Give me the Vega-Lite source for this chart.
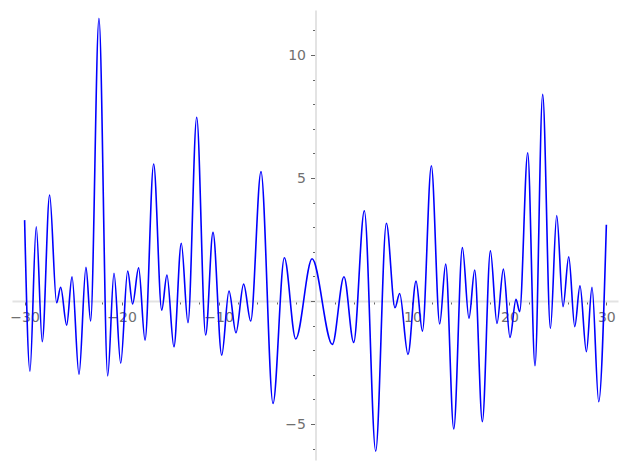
{
  "$schema": "https://vega.github.io/schema/vega-lite/v6.json",
  "width": 606,
  "height": 450,
  "autosize": "none",
  "padding": {"left": 12, "top": 10, "right": 9, "bottom": 10},
  "background": "white",
  "config": {"view": {"stroke": null}, "axis": {"grid": false, "title": null}},
  "data": {"values": [
    {"x": -30.0, "y": 3.29}, {"x": -29.45, "y": -2.85}, {"x": -28.8, "y": 3.02}, {"x": -28.18, "y": -1.65},
    {"x": -27.42, "y": 4.31}, {"x": -26.7, "y": -0.07}, {"x": -26.28, "y": 0.56}, {"x": -25.66, "y": -0.98},
    {"x": -25.11, "y": 0.99}, {"x": -24.39, "y": -2.98}, {"x": -23.67, "y": 1.37}, {"x": -23.19, "y": -0.81},
    {"x": -22.33, "y": 11.49}, {"x": -21.43, "y": -3.04}, {"x": -20.78, "y": 1.13}, {"x": -20.09, "y": -2.53},
    {"x": -19.37, "y": 1.22}, {"x": -18.86, "y": -0.12}, {"x": -18.24, "y": 1.35}, {"x": -17.58, "y": -1.59},
    {"x": -16.69, "y": 5.57}, {"x": -15.86, "y": -0.37}, {"x": -15.32, "y": 1.06}, {"x": -14.6, "y": -1.86},
    {"x": -13.84, "y": 2.35}, {"x": -13.15, "y": -0.88}, {"x": -12.25, "y": 7.47}, {"x": -11.33, "y": -1.38},
    {"x": -10.57, "y": 2.79}, {"x": -9.67, "y": -2.2}, {"x": -8.92, "y": 0.41}, {"x": -8.2, "y": -1.29},
    {"x": -7.41, "y": 0.69}, {"x": -6.68, "y": -0.81}, {"x": -5.62, "y": 5.26}, {"x": -4.38, "y": -4.16},
    {"x": -3.21, "y": 1.76}, {"x": -2.04, "y": -1.54}, {"x": -0.35, "y": 1.72}, {"x": 1.74, "y": -1.76},
    {"x": 2.94, "y": 0.99}, {"x": 3.94, "y": -1.68}, {"x": 5.04, "y": 3.67}, {"x": 6.21, "y": -6.1},
    {"x": 7.31, "y": 3.16}, {"x": 8.2, "y": -0.27}, {"x": 8.68, "y": 0.31}, {"x": 9.54, "y": -2.17},
    {"x": 10.37, "y": 0.81}, {"x": 11.03, "y": -1.22}, {"x": 11.95, "y": 5.5}, {"x": 12.81, "y": -0.93},
    {"x": 13.43, "y": 1.5}, {"x": 14.26, "y": -5.2}, {"x": 15.15, "y": 2.17}, {"x": 15.83, "y": -0.7},
    {"x": 16.42, "y": 1.26}, {"x": 17.21, "y": -4.9}, {"x": 18.04, "y": 2.04}, {"x": 18.72, "y": -0.91},
    {"x": 19.38, "y": 1.3}, {"x": 20.06, "y": -1.48}, {"x": 20.68, "y": 0.07}, {"x": 21.06, "y": -0.43},
    {"x": 21.89, "y": 6.03}, {"x": 22.64, "y": -2.63}, {"x": 23.43, "y": 8.4}, {"x": 24.23, "y": -1.11},
    {"x": 24.88, "y": 3.48}, {"x": 25.53, "y": -0.23}, {"x": 26.12, "y": 1.8}, {"x": 26.74, "y": -1.04},
    {"x": 27.28, "y": 0.62}, {"x": 27.94, "y": -2.06}, {"x": 28.52, "y": 0.56}, {"x": 29.21, "y": -4.09},
    {"x": 30.0, "y": 3.1}
  ]},
  "layer": [
    {
      "mark": {"type": "line", "opacity": 0, "strokeWidth": 0},
      "encoding": {
        "x": {"field": "x", "type": "quantitative",
          "scale": {"domain": [-31.3, 31.2], "nice": false, "zero": false},
          "axis": {"orient": "bottom", "offset": -159, "values": [-28, -26, -24, -22, -18, -16, -14, -12, -8, -6, -4, -2, 2, 4, 6, 8, 12, 14, 16, 18, 22, 24, 26, 28],
            "domain": false, "labels": false, "tickSize": 3, "tickColor": "#666666", "tickWidth": 1}},
        "y": {"field": "y", "type": "quantitative",
          "scale": {"domain": [-6.46, 11.83], "nice": false, "zero": false},
          "axis": {"orient": "left", "offset": -303.5, "values": [-6, -4, -3, -2, -1, 1, 2, 3, 4, 6, 7, 8, 9, 11],
            "domain": false, "labels": false, "tickSize": 3, "tickColor": "#666666", "tickWidth": 1}}
      }
    },
    {
      "mark": {"type": "line", "color": "#0000ff", "strokeWidth": 1.6, "interpolate": "monotone"},
      "encoding": {
        "x": {"field": "x", "type": "quantitative",
          "scale": {"domain": [-31.3, 31.2], "nice": false, "zero": false},
          "axis": {"orient": "bottom", "offset": -159, "values": [-30, -20, -10, 0, 10, 20, 30],
            "labelExpr": "datum.value == 0 ? '' : datum.label",
            "domain": true, "domainColor": "#e3e3e3", "domainWidth": 2,
            "tickSize": 4, "tickColor": "#666666", "tickWidth": 1,
            "labelFont": "DejaVu Sans", "labelFontSize": 14, "labelColor": "#707070", "labelPadding": 5, "labelFlush": false}},
        "y": {"field": "y", "type": "quantitative",
          "scale": {"domain": [-6.46, 11.83], "nice": false, "zero": false},
          "axis": {"orient": "left", "offset": -303.5, "values": [-5, 0, 5, 10],
            "labelExpr": "datum.value == 0 ? '' : datum.label",
            "domain": true, "domainColor": "#e3e3e3", "domainWidth": 2,
            "tickSize": 5, "tickColor": "#666666", "tickWidth": 1,
            "labelFont": "DejaVu Sans", "labelFontSize": 14, "labelColor": "#707070", "labelPadding": 5, "labelFlush": false}}
      }
    }
  ],
  "resolve": {"axis": {"x": "independent", "y": "independent"}}
}
